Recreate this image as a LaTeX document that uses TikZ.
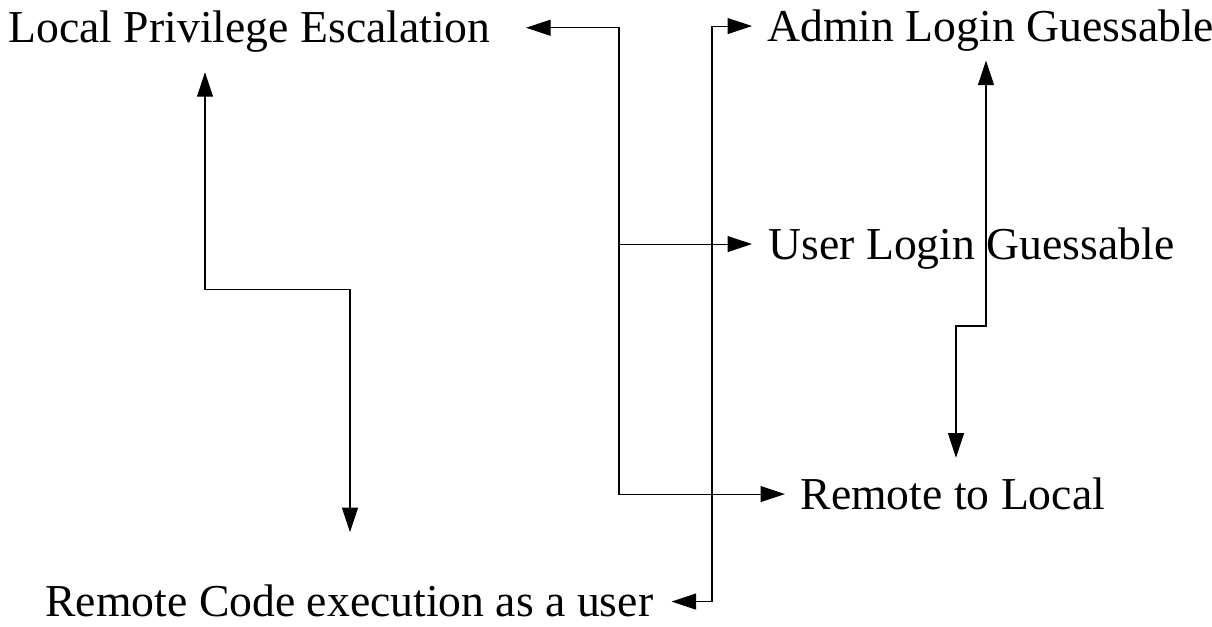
\documentclass[tikz,border=0pt]{standalone}
\usepackage{fontspec}
\setmainfont{Liberation Serif}
\usetikzlibrary{arrows.meta, positioning, calc}

\begin{document}
\begin{tikzpicture}[
  x=0.02cm, y=-0.02cm,
  lbl/.style={anchor=base west, inner sep=0pt, text height=17pt, text depth=0pt, font=\fontsize{26}{30}\selectfont},
  >={Triangle[length=4.9mm, width=3.2mm]},
  line width=0.6pt
]
\useasboundingbox (0,0) rectangle (1212,626);

\node[lbl] (lpe) at (8,42.7) {Local Privilege Escalation};
\node[lbl] (alg) at (767,41) {Admin Login Guessable};
\node[lbl] (ulg) at (768,259) {User Login Guessable};
\node[lbl] (rtl) at (800,509) {Remote to Local};
\node[lbl] (rce) at (45,616.5) {Remote Code execution as a user};

% rails and knees
\coordinate (railA) at (619,0);
\coordinate (railB) at (712,0);
\coordinate (fork) at (railA |- ulg.west);
\coordinate (kneeA) at (205,289.3);
\coordinate (kneeB) at (350,289.3);
\coordinate (kneeC) at (986,326);
\coordinate (kneeD) at (956,326);

\draw[->, shorten >=0.7cm] (fork) |- (lpe.east);
\draw[->, shorten >=0.32cm] (fork) -- (ulg.west);
\draw[->, shorten >=0.3cm] (fork) |- (rtl.west);

\draw[<->, shorten <=0.3cm, shorten >=0.36cm] (alg.west) -| (railB |- rce.east) -- (rce.east);

\draw[<->, shorten <=0.38cm, shorten >=0.42cm] (kneeC |- alg.south) -- (kneeC) -- (kneeD) -- (kneeD |- rtl.north);
\draw[<->, shorten <=0.58cm, shorten >=1.08cm] (kneeA |- lpe.south) -- (kneeA) -- (kneeB) -- (kneeB |- rce.north);
\end{tikzpicture}
\end{document}
